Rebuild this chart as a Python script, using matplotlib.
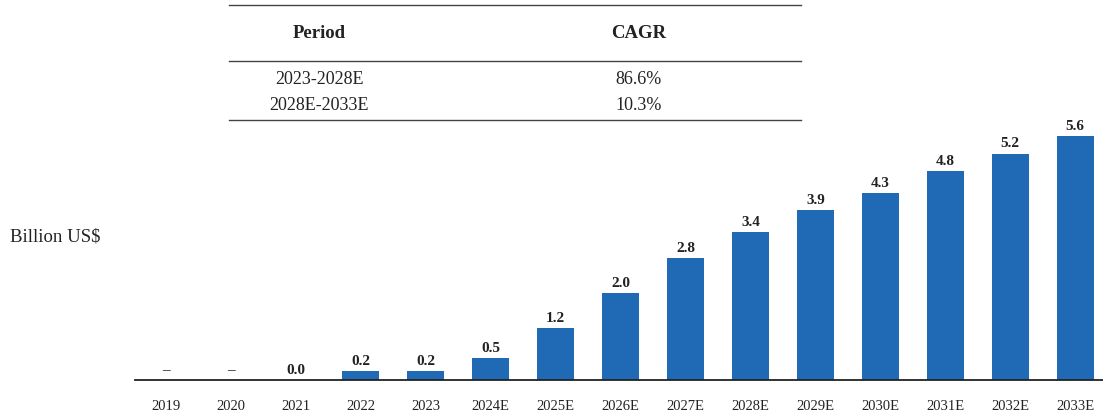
import matplotlib
matplotlib.use('Agg')
import matplotlib.pyplot as plt
from matplotlib.lines import Line2D

plt.rcParams['font.family'] = ['Liberation Serif', 'DejaVu Serif']

years = ['2019', '2020', '2021', '2022', '2023', '2024E', '2025E', '2026E',
         '2027E', '2028E', '2029E', '2030E', '2031E', '2032E', '2033E']
values = [0, 0, 0.0, 0.2, 0.2, 0.5, 1.2, 2.0, 2.8, 3.4, 3.9, 4.3, 4.8, 5.2, 5.6]
labels = ['–', '–', '0.0', '0.2', '0.2', '0.5', '1.2', '2.0', '2.8', '3.4',
          '3.9', '4.3', '4.8', '5.2', '5.6']
periods = ['2023-2028E', '2028E-2033E']
cagr = ['86.6%', '10.3%']

W, H = 1103, 414
fig = plt.figure(figsize=(W / 100, H / 100), dpi=100)

# axes: baseline at y=381px, left edge x=135px
ax = fig.add_axes([135 / W, (H - 381) / H, 1 - 135 / W, (381 - 130) / H])
x = list(range(len(years)))
ax.bar(x, values, width=0.57, color='#1f69b5')
ax.set_xlim(-0.48, 14.43)
ax.set_ylim(0, (381 - 130) / 43.55)
for i, (v, lab) in enumerate(zip(values, labels)):
    ax.annotate(lab, (i, v), xytext=(0, 3), textcoords='offset points',
                ha='center', va='bottom', fontsize=11, fontweight='bold',
                color='#222222')
ax.set_xticks(x)
ax.set_xticklabels(years, fontsize=10.5, color='#222222')
ax.tick_params(axis='x', length=0, pad=14)
ax.set_yticks([])
for s in ['top', 'right', 'left']:
    ax.spines[s].set_visible(False)
ax.spines['bottom'].set_linewidth(1.3)
ax.spines['bottom'].set_color('#222222')

fig.text(10 / W, 1 - 237 / H, 'Billion US$', fontsize=13.5, va='center',
         ha='left', color='#222222')

# CAGR table
def hline(ypx):
    fig.add_artist(Line2D([229 / W, 801 / W], [1 - ypx / H, 1 - ypx / H],
                          color='#444444', linewidth=1.0))

hline(6)
hline(62)
hline(121)
fig.text(319 / W, 1 - 33 / H, 'Period', fontsize=13.5, fontweight='bold',
         ha='center', va='center', color='#222222')
fig.text(639 / W, 1 - 33 / H, 'CAGR', fontsize=13.5, fontweight='bold',
         ha='center', va='center', color='#222222')
for k, (p, c) in enumerate(zip(periods, cagr)):
    yy = 1 - (79 + 26 * k) / H
    fig.text(319 / W, yy, p, fontsize=13, ha='center', va='center', color='#222222')
    fig.text(639 / W, yy, c, fontsize=13, ha='center', va='center', color='#222222')

fig.savefig('out.png', dpi=100)
